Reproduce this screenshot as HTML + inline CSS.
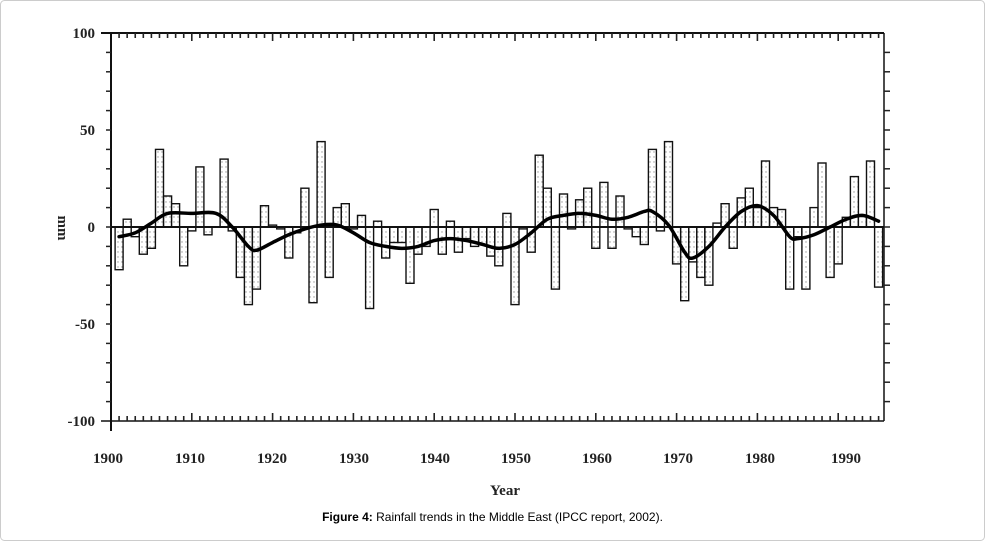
<!DOCTYPE html>
<html><head><meta charset="utf-8"><style>
html,body{margin:0;padding:0;background:#fff}
#w{position:relative;width:985px;height:541px;overflow:hidden}
svg{position:absolute;left:0;top:0}
.t{font-family:"Liberation Serif",serif;font-size:15px;font-weight:bold;fill:#222}
#cap{position:absolute;left:0;width:985px;top:510px;text-align:center;font-family:"Liberation Sans",sans-serif;font-size:12px;color:#000}
</style></head><body><div id="w">
<svg id="s" width="985" height="541" xmlns="http://www.w3.org/2000/svg">
<defs><pattern id="dots" width="4" height="5" patternUnits="userSpaceOnUse"><rect width="4" height="5" fill="#fff"/><circle cx="2" cy="2" r="0.7" fill="#999"/></pattern></defs>
<rect x="0.5" y="0.5" width="984" height="540" rx="4" fill="none" stroke="#ccc"/>
<g id="g"></g>
<text class="t" x="95" y="38" text-anchor="end" transform="scale(1,1)">100</text>
<text class="t" x="95" y="135" text-anchor="end">50</text>
<text class="t" x="95" y="232" text-anchor="end">0</text>
<text class="t" x="95" y="329" text-anchor="end">-50</text>
<text class="t" x="95" y="426" text-anchor="end">-100</text>
<text class="t" x="490" y="495" font-size="16">Year</text>
<text class="t" transform="translate(58,228) rotate(90)" text-anchor="middle">mm</text>
</svg>
<div id="cap"><b>Figure 4:</b> Rainfall trends in the Middle East (IPCC report, 2002).</div>
</div>
<script>
var L=111,R=884,T=33,B=421,Z=227,K=1.94;
function X(y){return 111+(y-1900)*8.08;}
function Y(v){return Z-v*K;}
var vals=[-22,4,-5,-14,-11,40,16,12,-20,-2,31,-4,0,35,-2,-26,-40,-32,11,1,-1,-16,-3,20,-39,44,-26,10,12,-1,6,-42,3,-16,-8,-8,-29,-14,-10,9,-14,3,-13,-6,-10,-9,-15,-20,7,-40,-1,-13,37,20,-32,17,-1,14,20,-11,23,-11,16,-1,-5,-9,40,-2,44,-19,-38,-18,-26,-30,2,12,-11,15,20,10,34,10,9,-32,-5,-32,10,33,-26,-19,5,26,6,34,-31];
var h='';
for(var i=0;i<vals.length;i++){var yr=1901+i,v=vals[i],x=X(yr)-4;var y0=Math.min(Y(v),Z),hh=Math.abs(v*K);
h+='<rect x="'+x.toFixed(1)+'" y="'+y0.toFixed(1)+'" width="8" height="'+hh.toFixed(1)+'" fill="url(#dots)" stroke="#111" stroke-width="1.4"/>';}
h+='<line x1="'+(L-10)+'" y1="'+T+'" x2="'+R+'" y2="'+T+'" stroke="#111" stroke-width="2"/>';
h+='<line x1="'+L+'" y1="'+(T-1)+'" x2="'+L+'" y2="'+(B+10)+'" stroke="#111" stroke-width="2"/>';
h+='<line x1="'+(L-10)+'" y1="'+B+'" x2="'+R+'" y2="'+B+'" stroke="#111" stroke-width="1.5"/>';
h+='<line x1="'+R+'" y1="'+T+'" x2="'+R+'" y2="'+B+'" stroke="#111" stroke-width="1.5"/>';
h+='<line x1="'+L+'" y1="'+Z+'" x2="'+R+'" y2="'+Z+'" stroke="#111" stroke-width="2"/>';
for(var yr=1901;yr<=1995;yr++){var x=X(yr),l=(yr%10==0)?8:5;
h+='<line x1="'+x+'" y1="'+T+'" x2="'+x+'" y2="'+(T+l)+'" stroke="#222" stroke-width="1.6"/>';
h+='<line x1="'+x+'" y1="'+B+'" x2="'+x+'" y2="'+(B-l)+'" stroke="#222" stroke-width="1.6"/>';}
for(var v=-90;v<100;v+=10){var y=Y(v);h+='<line x1="'+(L-5)+'" y1="'+y+'" x2="'+L+'" y2="'+y+'" stroke="#222" stroke-width="1.5"/><line x1="'+R+'" y1="'+y+'" x2="'+(R+6)+'" y2="'+y+'" stroke="#222" stroke-width="1.5"/>';}
var lx=[108,190,272,354,435,516,597,678,760,846];
for(var k=0;k<10;k++){h+='<text class="t" x="'+lx[k]+'" y="463" text-anchor="middle">'+(1900+k*10)+'</text>';}
var p=[[1901,-5],[1903,-3],[1905,2],[1907,7],[1910,7],[1913,7],[1915,0],[1917,-10],[1918,-12],[1920,-8],[1922,-4],[1924,-1],[1926,1],[1928,1],[1930,-3],[1932,-8],[1934,-10],[1936,-11],[1938,-10],[1940,-7],[1942,-6],[1944,-7],[1946,-9],[1948,-11],[1950,-9],[1952,-3],[1954,4],[1956,6],[1958,7],[1960,6],[1962,4],[1964,5],[1966,8],[1967,8],[1969,1],[1971,-13],[1972,-16],[1974,-10],[1976,0],[1978,8],[1980,11],[1982,6],[1984,-5],[1985,-6],[1987,-4],[1989,0],[1991,4],[1993,6],[1995,3]];
var pts=p.map(function(q){return [X(q[0]),Y(q[1])];});
var d='M'+pts[0][0]+','+pts[0][1];
for(var i=0;i<pts.length-1;i++){var p0=pts[Math.max(0,i-1)],p1=pts[i],p2=pts[i+1],p3=pts[Math.min(pts.length-1,i+2)];
d+=' C'+(p1[0]+(p2[0]-p0[0])/6)+','+(p1[1]+(p2[1]-p0[1])/6)+' '+(p2[0]-(p3[0]-p1[0])/6)+','+(p2[1]-(p3[1]-p1[1])/6)+' '+p2[0]+','+p2[1];}
h+='<path d="'+d+'" fill="none" stroke="#000" stroke-width="3.5" stroke-linecap="round" stroke-linejoin="round"/>';
document.getElementById('g').innerHTML=h;
</script>
</body></html>
